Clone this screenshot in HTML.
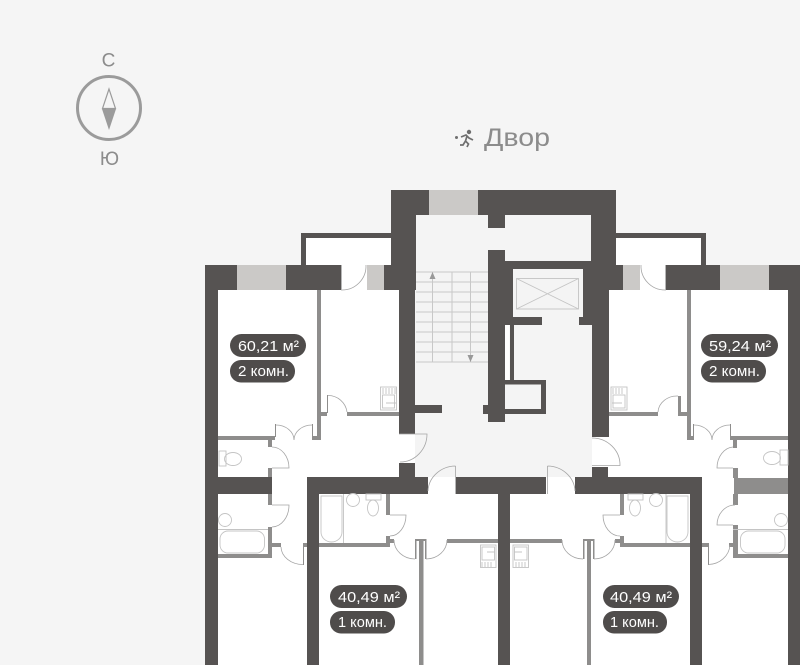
<!DOCTYPE html>
<html><head><meta charset="utf-8"><style>
html,body{margin:0;padding:0;background:#f5f5f5;width:800px;height:665px;overflow:hidden}
svg{display:block}
.t{font-family:"Liberation Sans",sans-serif;fill:#fff;font-size:15px}
.s{font-family:"Liberation Sans",sans-serif;fill:#8c8c8c}
.d{fill:none;stroke:#a5a5a5;stroke-width:.8}
.f{fill:none;stroke:#c4c4c4;stroke-width:.9}
.g{fill:#8e8d8c}
</style></head><body>
<svg width="800" height="665" viewBox="0 0 800 665" xmlns="http://www.w3.org/2000/svg">
<rect width="800" height="665" fill="#f5f5f5"/>
<!-- white apartments -->
<rect x="205" y="265" width="595" height="400" fill="#fff"/>
<rect x="301" y="233" width="405" height="32" fill="#fff"/>
<!-- lobby -->
<rect x="415" y="215" width="177" height="262" fill="#f4f4f4"/>
<!-- partitions -->
<g class="g">
<rect x="317" y="290" width="4" height="150"/>
<rect x="321" y="412" width="6" height="4"/>
<rect x="327" y="395" width="1" height="18"/>
<rect x="347" y="412" width="52" height="4"/>
<rect x="218" y="436" width="57" height="4"/>
<rect x="312" y="436" width="5" height="4"/>
<rect x="312" y="424" width="1" height="12"/>
<rect x="275" y="424" width="1" height="13"/>
<rect x="687" y="290" width="4" height="150"/>
<rect x="678" y="412" width="9" height="4"/>
<rect x="678" y="396" width="3" height="17"/>
<rect x="608" y="412" width="50" height="4"/>
<rect x="730" y="436" width="58" height="4"/>
<rect x="691" y="436" width="3" height="4"/>
<rect x="730" y="424" width="1" height="13"/>
<rect x="693" y="424" width="1" height="13"/>
<!-- lower-left bath -->
<rect x="268" y="440" width="4" height="7"/>
<rect x="268" y="468" width="4" height="10"/>
<rect x="268" y="494" width="4" height="11"/>
<rect x="268" y="527" width="4" height="31"/>
<rect x="218" y="554" width="54" height="4"/>
<rect x="272" y="543" width="9" height="4"/>
<rect x="303" y="543" width="4" height="4"/>
<rect x="303" y="543" width="1" height="22"/>
<!-- lower-left center -->
<rect x="319" y="543" width="71" height="4"/>
<rect x="386" y="494" width="4" height="21"/>
<rect x="386" y="536" width="4" height="11"/>
<rect x="390" y="539" width="4" height="4"/>
<rect x="419" y="541" width="4.500" height="124"/>
<rect x="415" y="539" width="11" height="2"/>
<rect x="415" y="539" width="1.500" height="20"/>
<rect x="425" y="539" width="1.500" height="20"/>
<rect x="447" y="539" width="51" height="4"/>
<!-- lower-right center -->
<rect x="510" y="539" width="52" height="4"/>
<rect x="587" y="541" width="4" height="124"/>
<rect x="583" y="539" width="11" height="2"/>
<rect x="583" y="539" width="1.500" height="20"/>
<rect x="593" y="539" width="1.500" height="20"/>
<rect x="620" y="494" width="4" height="21"/>
<rect x="620" y="536" width="4" height="11"/>
<rect x="615" y="539" width="5" height="4"/>
<rect x="620" y="543" width="70" height="4"/>
<!-- lower-right bath -->
<rect x="733" y="440" width="4" height="8"/>
<rect x="733" y="468" width="5" height="10"/>
<rect x="734" y="478" width="54" height="16"/>
<rect x="733" y="494" width="5" height="11"/>
<rect x="733" y="525" width="5" height="33"/>
<rect x="733" y="554" width="55" height="4"/>
<rect x="702" y="543" width="7" height="4"/>
<rect x="708" y="543" width="1" height="22"/>
<rect x="729" y="543" width="4" height="4"/>
</g>
<!-- walls -->
<g fill="#565352">
<rect x="205" y="265" width="13" height="400"/>
<rect x="205" y="265" width="136" height="25"/>
<rect x="666" y="265" width="134" height="25"/>
<rect x="788" y="265" width="12" height="400"/>
<rect x="301" y="233" width="90" height="5"/>
<rect x="301" y="233" width="5" height="32"/>
<rect x="616" y="233" width="90" height="5"/>
<rect x="701" y="233" width="5" height="32"/>
<rect x="391" y="190" width="225" height="25"/>
<rect x="391" y="190" width="25" height="75"/>
<rect x="384" y="265" width="32" height="25"/>
<rect x="399" y="290" width="16" height="144"/>
<rect x="399" y="463" width="16" height="15"/>
<rect x="591" y="190" width="25" height="75"/>
<rect x="583" y="265" width="40" height="25"/>
<rect x="583" y="290" width="26" height="35"/>
<rect x="592" y="325" width="17" height="112"/>
<rect x="592" y="467" width="16" height="11"/>
<rect x="488" y="215" width="17" height="13"/>
<rect x="488" y="250" width="17" height="172"/>
<rect x="505" y="261" width="8" height="64"/>
<rect x="505" y="261" width="87" height="8"/>
<rect x="505" y="317" width="37" height="8"/>
<rect x="579" y="317" width="13" height="8"/>
<rect x="510" y="325" width="4" height="56"/>
<rect x="505" y="380" width="41" height="4.500"/>
<rect x="541" y="380" width="5" height="34"/>
<rect x="483" y="409" width="63" height="5"/>
<rect x="483" y="405" width="5" height="9"/>
<rect x="415" y="405" width="27" height="8"/>
<rect x="218" y="477" width="54" height="17"/>
<rect x="307" y="477" width="121" height="17"/>
<rect x="456" y="477" width="90" height="17"/>
<rect x="575" y="477" width="127" height="17"/>
<rect x="307" y="477" width="12" height="188"/>
<rect x="498" y="477" width="12" height="188"/>
<rect x="690" y="477" width="12" height="188"/>
</g>
<rect x="505" y="325" width="4.500" height="55" fill="#fff"/>
<!-- windows -->
<g fill="#cbc9c7">
<rect x="237" y="265" width="49" height="25"/>
<rect x="367" y="265" width="17" height="25"/>
<rect x="429" y="190" width="49" height="25"/>
<rect x="623" y="265" width="17" height="25"/>
<rect x="720" y="265" width="49" height="25"/>
</g>
<!-- elevator -->
<g class="f">
<rect x="516.500" y="278.500" width="62" height="30.500"/>
<path d="M516.500 278.500L578.500 309M578.500 278.500L516.500 309"/>
</g>
<!-- stairs -->
<g stroke="#c8c8c8" stroke-width="1">
<path d="M416 272H488M416 282H488M416 292H488M416 302H488M416 312H488M416 322H488M416 332H488M416 342H488M416 352H488M416 362H488M432.500 272V362M452 272V362M470.500 272V362"/>
</g>
<path d="M432.500 272L429.500 279H435.500Z M470.500 362L467.500 355H473.500Z" fill="#999"/>
<!-- doors -->
<g class="d">
<path d="M341.500 265V290H342A24 24 0 0 0 366 265"/>
<path d="M665.500 265V290H665A24 24 0 0 1 641 265"/>
<path d="M328 395.500A19 19 0 0 1 347 412"/>
<path d="M658 412A19 17 0 0 1 678 396"/>
<path d="M276 425A18 15 0 0 1 294 440M312 425A18 15 0 0 0 294 440"/>
<path d="M694 425A18 15 0 0 1 712 440M730 425A18 15 0 0 0 712 440"/>
<path d="M272 447A17 21 0 0 1 289 468H272"/>
<path d="M272 527A17 22 0 0 0 289 505H272"/>
<path d="M281 547A22 18 0 0 0 303 564.500"/>
<path d="M733 447A17 21 0 0 0 717 468H733"/>
<path d="M735 505A18 20 0 0 0 717 525H733"/>
<path d="M708.500 564.500A22 21 0 0 0 730 545"/>
<path d="M390 515H406A16 21 0 0 1 390 536"/>
<path d="M620 515H603A17 21 0 0 0 620 536"/>
<path d="M394 540A21 19 0 0 0 415 559M426 559A21 19 0 0 0 447 540"/>
<path d="M562 540A21 19 0 0 0 583 559M594 559A21 19 0 0 0 615 540"/>
<path d="M399 434H427A27 28 0 0 1 400 462"/>
<path d="M592 438A28 27 0 0 1 620 465.500H592"/>
<path d="M455.500 466V494M455.500 466A28 26 0 0 0 428 491"/>
<path d="M547.500 466V494M547.500 466A28 26 0 0 1 575 491"/>
</g>
<!-- fixtures -->
<g class="f">
<rect x="380.500" y="387" width="16" height="23"/><rect x="382.500" y="395" width="12" height="13"/><path d="M383 388V394M386 388V394M389 388V394M392 388V394M395 388V394M386 403H396"/>
<rect x="611" y="387" width="16" height="23"/><rect x="613" y="395" width="12" height="13"/><path d="M613 388V394M616 388V394M619 388V394M622 388V394M612 403H622"/>
<rect x="480.500" y="545" width="15.500" height="22.500"/><rect x="482" y="547" width="12.500" height="13"/><path d="M482 562V567M485 562V567M488 562V567M491 562V567M487 552H495"/>
<rect x="513" y="545" width="15.500" height="22.500"/><rect x="514.500" y="547" width="12.500" height="13"/><path d="M516 562V567M519 562V567M522 562V567M525 562V567M514 552H522"/>
<rect x="219" y="451" width="7" height="15"/><ellipse cx="233" cy="459" rx="8.500" ry="6.500"/>
<rect x="780" y="450" width="8" height="15"/><ellipse cx="772" cy="458" rx="8.500" ry="6.500"/>
<circle cx="225" cy="520" r="6.500"/><circle cx="781" cy="520" r="6.500"/>
<rect x="220" y="531" width="44.500" height="22" rx="8"/><path d="M218 529.500H268"/>
<rect x="740.500" y="531" width="44.500" height="22" rx="8"/><path d="M733 529.500H788"/>
<path d="M321 496H342V532A10.500 10 0 0 1 321 532ZM343.500 494V543"/>
<circle cx="353" cy="500" r="6.500"/>
<rect x="366" y="494" width="15" height="6"/><ellipse cx="373" cy="508" rx="5.500" ry="8"/>
<path d="M667 496H688V532A10.500 10 0 0 1 667 532ZM666 494V543"/>
<circle cx="656" cy="500" r="6.500"/>
<rect x="628" y="494" width="15" height="6"/><ellipse cx="635" cy="508" rx="5.500" ry="8"/>
</g>
<!-- badges -->
<g fill="#4f4c4b">
<rect x="230" y="334" width="76" height="23" rx="11.500"/>
<rect x="230" y="360" width="65" height="22.500" rx="11"/>
<rect x="701" y="334" width="77" height="23" rx="11.500"/>
<rect x="701" y="360" width="65" height="22.500" rx="11"/>
<rect x="330" y="585" width="77" height="23" rx="11.500"/>
<rect x="330" y="611" width="65" height="22.500" rx="11"/>
<rect x="603" y="585" width="76" height="23" rx="11.500"/>
<rect x="603" y="611" width="64" height="22.500" rx="11"/>
</g>
<text class="t" x="238" y="351" textLength="61" lengthAdjust="spacingAndGlyphs">60,21 м²</text>
<text class="t" x="238" y="376" textLength="51" lengthAdjust="spacingAndGlyphs">2 комн.</text>
<text class="t" x="709" y="351" textLength="62" lengthAdjust="spacingAndGlyphs">59,24 м²</text>
<text class="t" x="709" y="376" textLength="51" lengthAdjust="spacingAndGlyphs">2 комн.</text>
<text class="t" x="338" y="602" textLength="62" lengthAdjust="spacingAndGlyphs">40,49 м²</text>
<text class="t" x="338" y="627" textLength="49" lengthAdjust="spacingAndGlyphs">1 комн.</text>
<text class="t" x="610" y="602" textLength="62" lengthAdjust="spacingAndGlyphs">40,49 м²</text>
<text class="t" x="610" y="627" textLength="49" lengthAdjust="spacingAndGlyphs">1 комн.</text>
<!-- compass -->
<circle cx="109" cy="108" r="31.500" fill="none" stroke="#9b9b9b" stroke-width="3"/>
<path d="M109 89L102.500 108.500H115.500Z" fill="none" stroke="#9b9b9b" stroke-width="1.200"/>
<path d="M102 109H116L109 130Z" fill="#9b9b9b"/>
<text class="s" x="108.500" y="66.500" font-size="19" text-anchor="middle">С</text>
<text class="s" x="109.500" y="165" font-size="19" text-anchor="middle">Ю</text>
<!-- yard label -->
<text class="s" x="484" y="146" font-size="25" textLength="66" lengthAdjust="spacingAndGlyphs">Двор</text>
<g fill="#6f6f6f" stroke="none">
<circle cx="456.500" cy="137.500" r="1.500"/>
<circle cx="469" cy="132" r="2.200"/>
</g>
<path d="M461 137L466 135L469 138L473 140M467 136L465.500 141L468.500 144L467 147M465.500 141L463 145L460 145" fill="none" stroke="#6f6f6f" stroke-width="1.700"/>
</svg>
</body></html>
